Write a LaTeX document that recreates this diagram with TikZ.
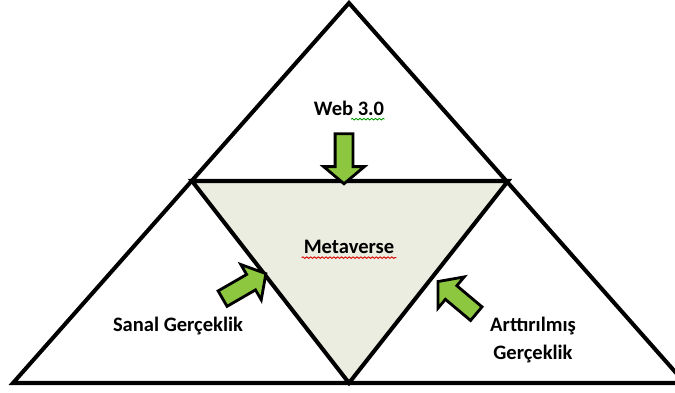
\documentclass[tikz,border=0pt]{standalone}
\usepackage{fontspec}
\setmainfont{Carlito}
\usetikzlibrary{shapes.arrows,decorations.pathmorphing}
\definecolor{metafill}{HTML}{EBEDE0}
\definecolor{arrowgreen}{HTML}{8DC63F}
\tikzset{
  edge/.style = {draw=black, line width=2.3pt, line join=miter},
  lbl/.style = {font=\bfseries\fontsize{11.7}{16}\selectfont, align=center, inner sep=1pt},
  blk/.style = {single arrow, draw=black, fill=arrowgreen, line width=1.6pt, inner xsep=0pt, inner ysep=0.15cm, minimum height=1cm, single arrow head extend=0.23cm, single arrow tip angle=100}
  ,squiggle/.style = {decorate, decoration={snake, amplitude=0.45pt, segment length=2.2pt}, line width=0.5pt}
}
\begin{document}
\begin{tikzpicture}[x=0.02cm, y=-0.02cm]
            \useasboundingbox (0,0) rectangle (675,392);
            % corners
            \coordinate (top) at (349,3);
            \coordinate (bl) at (13,383);
            \coordinate (br) at (685,383);
            \coordinate (il) at (192,181);
            \coordinate (ir) at (508,181);
            \coordinate (ib) at (349,383);
            \fill[metafill] (il) -- (ir) -- (ib) -- cycle;
            \draw[edge] (top) -- (bl) -- (br) -- cycle;
            \draw[edge] (il) -- (ir) -- (ib) -- cycle;
            % labels
            \node[lbl] (web) at (349,108) {Web 3.0};
            \node[lbl] (meta) at (349,247) {Metaverse};
            \node[lbl] (vr) at (178,326) {Sanal Gerçeklik};
            \node[lbl] (ar) at (533,340) {Arttırılmış\\Gerçeklik};
            \draw[squiggle, green!60!black] ([xshift=-20pt,yshift=-1pt]web.south east) -- ([xshift=-1pt,yshift=-1pt]web.south east);
            \draw[squiggle, red!85!black] ([yshift=-1pt]meta.south west) -- ([yshift=-1pt]meta.south east);
            % arrows
            \node[blk, rotate=-90] (a1) at (344,155) {};
            \node[blk, rotate=30] (a2) at (241,288) {};
            \node[blk, rotate=140] (a3) at (460,300) {};
        \end{tikzpicture}
\end{document}
